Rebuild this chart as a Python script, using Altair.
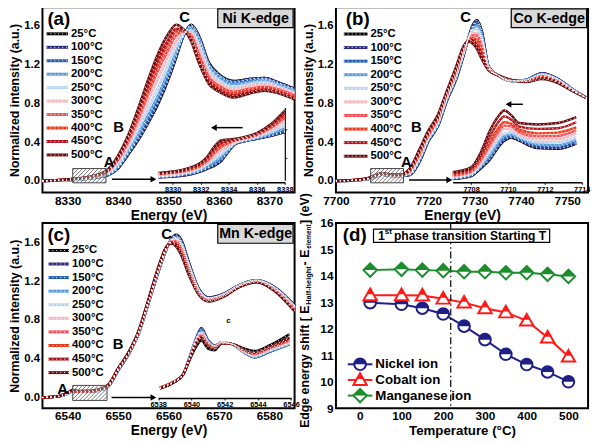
import altair as alt
import pandas as pd

# ---------------------------------------------------------------- data
TEMPS = ["25°C", "100°C", "150°C", "200°C", "250°C", "300°C", "350°C", "400°C", "450°C", "500°C"]
COLORS = ["#000000", "#2c2a7c", "#1f5bb0", "#5b9bd8", "#b8d5f2",
          "#f5b8bf", "#f24f57", "#e93a1c", "#b3121c", "#6b0c0e"]

# (a) Ni K-edge, main spectra (one row per temperature)
NI_E = [8325, 8331, 8335, 8338, 8340, 8342, 8344, 8346, 8348, 8350, 8351.5, 8353, 8354.5,
        8356, 8358, 8360, 8363, 8366, 8369, 8372, 8375]
NI_I = [
    [0.00, 0.01, 0.03, 0.06, 0.13, 0.27, 0.42, 0.60, 0.80, 1.05, 1.27, 1.50, 1.61, 1.50, 1.22, 1.10, 1.03, 1.05, 1.06, 1.01, 0.95],
    [0.00, 0.01, 0.03, 0.06, 0.13, 0.28, 0.43, 0.61, 0.82, 1.06, 1.28, 1.50, 1.60, 1.49, 1.21, 1.09, 1.02, 1.05, 1.06, 1.01, 0.95],
    [0.00, 0.01, 0.03, 0.06, 0.14, 0.29, 0.45, 0.64, 0.84, 1.09, 1.30, 1.50, 1.60, 1.48, 1.20, 1.09, 1.02, 1.04, 1.05, 1.00, 0.94],
    [0.00, 0.01, 0.03, 0.07, 0.15, 0.30, 0.48, 0.68, 0.89, 1.13, 1.33, 1.51, 1.58, 1.45, 1.18, 1.07, 1.00, 1.02, 1.04, 0.99, 0.93],
    [0.00, 0.01, 0.04, 0.08, 0.17, 0.34, 0.53, 0.75, 0.97, 1.21, 1.38, 1.52, 1.55, 1.41, 1.15, 1.04, 0.97, 1.00, 1.02, 0.97, 0.91],
    [0.00, 0.02, 0.04, 0.09, 0.20, 0.37, 0.59, 0.83, 1.06, 1.29, 1.44, 1.53, 1.53, 1.36, 1.11, 1.01, 0.95, 0.98, 1.00, 0.96, 0.90],
    [0.00, 0.02, 0.04, 0.10, 0.22, 0.40, 0.64, 0.90, 1.15, 1.36, 1.50, 1.54, 1.50, 1.31, 1.07, 0.98, 0.92, 0.95, 0.97, 0.94, 0.88],
    [0.00, 0.02, 0.05, 0.11, 0.23, 0.43, 0.68, 0.95, 1.21, 1.42, 1.54, 1.55, 1.48, 1.28, 1.05, 0.96, 0.90, 0.93, 0.96, 0.92, 0.86],
    [0.00, 0.02, 0.05, 0.11, 0.24, 0.45, 0.71, 1.00, 1.26, 1.46, 1.57, 1.56, 1.46, 1.25, 1.03, 0.94, 0.88, 0.92, 0.94, 0.91, 0.85],
    [0.00, 0.02, 0.05, 0.12, 0.26, 0.47, 0.75, 1.05, 1.32, 1.52, 1.61, 1.56, 1.44, 1.22, 1.00, 0.92, 0.86, 0.90, 0.93, 0.90, 0.84],
]
# (a) inset, pre-edge region (relative units)
NI_INSET_E = [8329, 8330, 8331, 8332, 8332.5, 8333, 8333.5, 8334, 8334.5, 8335, 8336, 8337, 8338]
NI_INSET_I = [
    [0.04, 0.05, 0.07, 0.12, 0.16, 0.20, 0.27, 0.40, 0.50, 0.53, 0.57, 0.61, 0.66],
    [0.04, 0.05, 0.07, 0.12, 0.17, 0.21, 0.28, 0.40, 0.50, 0.53, 0.57, 0.61, 0.67],
    [0.04, 0.06, 0.08, 0.13, 0.17, 0.22, 0.29, 0.41, 0.51, 0.53, 0.58, 0.62, 0.68],
    [0.05, 0.06, 0.09, 0.14, 0.19, 0.25, 0.32, 0.43, 0.51, 0.54, 0.58, 0.64, 0.71],
    [0.06, 0.07, 0.10, 0.16, 0.22, 0.29, 0.36, 0.45, 0.52, 0.55, 0.60, 0.66, 0.76],
    [0.07, 0.085, 0.115, 0.18, 0.245, 0.335, 0.41, 0.48, 0.535, 0.56, 0.61, 0.69, 0.81],
    [0.08, 0.10, 0.13, 0.20, 0.27, 0.38, 0.46, 0.51, 0.55, 0.57, 0.62, 0.72, 0.86],
    [0.09, 0.105, 0.14, 0.21, 0.29, 0.41, 0.49, 0.52, 0.555, 0.58, 0.63, 0.73, 0.89],
    [0.09, 0.11, 0.15, 0.23, 0.31, 0.44, 0.52, 0.54, 0.56, 0.58, 0.64, 0.75, 0.92],
    [0.10, 0.12, 0.16, 0.24, 0.33, 0.47, 0.55, 0.56, 0.57, 0.59, 0.65, 0.77, 0.96],
]

# (b) Co K-edge
CO_E = [7700, 7704, 7707, 7708.5, 7710, 7712, 7714, 7716, 7718, 7720, 7722, 7724, 7726, 7727.5,
        7728.5, 7729.5, 7730.5, 7731.5, 7733, 7735, 7738, 7741, 7744.5, 7748, 7751, 7754]
CO_I = [
    [0.00, 0.005, 0.02, 0.04, 0.065, 0.05, 0.05, 0.06, 0.19, 0.41, 0.56, 0.83, 1.05, 1.28, 1.45, 1.60, 1.66, 1.55, 1.18, 1.09, 1.03, 1.04, 1.11, 1.05, 0.95, 0.86],
    [0.00, 0.005, 0.02, 0.04, 0.066, 0.051, 0.051, 0.064, 0.20, 0.42, 0.57, 0.84, 1.06, 1.29, 1.45, 1.59, 1.65, 1.54, 1.18, 1.09, 1.03, 1.04, 1.11, 1.05, 0.95, 0.86],
    [0.00, 0.005, 0.02, 0.042, 0.067, 0.052, 0.052, 0.067, 0.20, 0.42, 0.57, 0.84, 1.06, 1.29, 1.45, 1.58, 1.63, 1.52, 1.18, 1.09, 1.03, 1.04, 1.10, 1.05, 0.95, 0.86],
    [0.00, 0.006, 0.022, 0.044, 0.068, 0.053, 0.053, 0.074, 0.22, 0.43, 0.58, 0.85, 1.08, 1.30, 1.45, 1.56, 1.60, 1.49, 1.17, 1.09, 1.03, 1.04, 1.10, 1.04, 0.95, 0.86],
    [0.00, 0.007, 0.023, 0.046, 0.07, 0.055, 0.055, 0.08, 0.23, 0.44, 0.60, 0.86, 1.09, 1.31, 1.45, 1.55, 1.57, 1.46, 1.17, 1.09, 1.03, 1.03, 1.09, 1.04, 0.94, 0.86],
    [0.00, 0.007, 0.025, 0.049, 0.072, 0.057, 0.057, 0.09, 0.25, 0.46, 0.61, 0.875, 1.11, 1.33, 1.45, 1.52, 1.525, 1.42, 1.16, 1.09, 1.035, 1.03, 1.08, 1.03, 0.94, 0.86],
    [0.00, 0.008, 0.026, 0.051, 0.073, 0.058, 0.058, 0.10, 0.26, 0.47, 0.63, 0.885, 1.12, 1.335, 1.445, 1.50, 1.50, 1.39, 1.16, 1.09, 1.035, 1.03, 1.08, 1.03, 0.94, 0.86],
    [0.00, 0.009, 0.027, 0.054, 0.076, 0.061, 0.061, 0.11, 0.28, 0.49, 0.64, 0.90, 1.14, 1.35, 1.44, 1.47, 1.45, 1.35, 1.15, 1.09, 1.037, 1.026, 1.07, 1.02, 0.936, 0.86],
    [0.00, 0.009, 0.029, 0.057, 0.078, 0.063, 0.063, 0.12, 0.30, 0.50, 0.66, 0.915, 1.16, 1.365, 1.44, 1.45, 1.40, 1.30, 1.15, 1.09, 1.038, 1.023, 1.06, 1.016, 0.933, 0.86],
    [0.00, 0.01, 0.03, 0.06, 0.08, 0.065, 0.065, 0.13, 0.32, 0.52, 0.68, 0.93, 1.18, 1.38, 1.44, 1.42, 1.36, 1.26, 1.14, 1.09, 1.04, 1.02, 1.05, 1.01, 0.93, 0.86],
]
CO_INSET_E = [7707, 7708, 7708.5, 7709, 7709.5, 7709.8, 7710.2, 7710.6, 7711.6, 7712.7, 7713.7]
CO_INSET_I = [
    [0.03, 0.07, 0.17, 0.29, 0.47, 0.55, 0.59, 0.55, 0.45, 0.44, 0.51],
    [0.033, 0.074, 0.18, 0.30, 0.48, 0.56, 0.60, 0.56, 0.46, 0.45, 0.52],
    [0.038, 0.08, 0.19, 0.32, 0.50, 0.58, 0.61, 0.57, 0.48, 0.47, 0.54],
    [0.044, 0.09, 0.20, 0.35, 0.53, 0.61, 0.635, 0.59, 0.50, 0.49, 0.56],
    [0.054, 0.10, 0.22, 0.39, 0.575, 0.65, 0.665, 0.61, 0.53, 0.53, 0.60],
    [0.066, 0.116, 0.25, 0.44, 0.63, 0.71, 0.70, 0.64, 0.57, 0.57, 0.65],
    [0.078, 0.13, 0.275, 0.485, 0.68, 0.755, 0.74, 0.67, 0.61, 0.615, 0.69],
    [0.09, 0.145, 0.30, 0.53, 0.73, 0.80, 0.775, 0.70, 0.65, 0.66, 0.73],
    [0.106, 0.166, 0.34, 0.60, 0.81, 0.88, 0.83, 0.74, 0.71, 0.72, 0.80],
    [0.125, 0.19, 0.38, 0.68, 0.89, 0.96, 0.89, 0.79, 0.77, 0.79, 0.87],
]

# (c) Mn K-edge
MN_E = [6535, 6538, 6540, 6541, 6542, 6544, 6546, 6548, 6550, 6552, 6554, 6556, 6558, 6559.5,
        6560.5, 6561.5, 6562.5, 6564, 6566, 6568, 6571, 6574, 6577.5, 6581, 6585]
MN_I = [
    [0.00, 0.01, 0.04, 0.07, 0.06, 0.06, 0.07, 0.11, 0.28, 0.44, 0.65, 0.97, 1.30, 1.52, 1.63, 1.68, 1.63, 1.40, 1.12, 1.03, 1.07, 1.16, 1.21, 1.14, 0.95],
    [0.00, 0.01, 0.04, 0.07, 0.06, 0.06, 0.07, 0.11, 0.28, 0.44, 0.65, 0.97, 1.30, 1.52, 1.63, 1.67, 1.62, 1.39, 1.12, 1.03, 1.07, 1.16, 1.21, 1.14, 0.95],
    [0.00, 0.01, 0.04, 0.07, 0.06, 0.06, 0.07, 0.11, 0.28, 0.44, 0.66, 0.98, 1.31, 1.53, 1.62, 1.66, 1.61, 1.38, 1.11, 1.02, 1.07, 1.16, 1.21, 1.13, 0.94],
    [0.00, 0.01, 0.04, 0.07, 0.06, 0.06, 0.07, 0.12, 0.29, 0.45, 0.66, 0.98, 1.31, 1.53, 1.62, 1.65, 1.59, 1.37, 1.11, 1.02, 1.06, 1.16, 1.21, 1.13, 0.94],
    [0.00, 0.01, 0.04, 0.07, 0.06, 0.06, 0.07, 0.12, 0.29, 0.45, 0.66, 0.98, 1.32, 1.53, 1.62, 1.64, 1.57, 1.36, 1.10, 1.02, 1.06, 1.15, 1.20, 1.13, 0.93],
    [0.00, 0.01, 0.05, 0.07, 0.06, 0.06, 0.08, 0.12, 0.29, 0.45, 0.66, 0.99, 1.32, 1.53, 1.61, 1.63, 1.56, 1.34, 1.09, 1.01, 1.06, 1.15, 1.20, 1.12, 0.92],
    [0.00, 0.01, 0.05, 0.07, 0.06, 0.06, 0.08, 0.12, 0.29, 0.45, 0.67, 0.99, 1.33, 1.54, 1.61, 1.61, 1.54, 1.33, 1.09, 1.01, 1.05, 1.15, 1.20, 1.12, 0.92],
    [0.00, 0.01, 0.05, 0.07, 0.06, 0.06, 0.08, 0.12, 0.29, 0.45, 0.67, 1.00, 1.33, 1.54, 1.60, 1.60, 1.53, 1.32, 1.08, 1.00, 1.05, 1.15, 1.20, 1.11, 0.91],
    [0.00, 0.01, 0.05, 0.07, 0.06, 0.06, 0.08, 0.13, 0.30, 0.46, 0.67, 1.00, 1.34, 1.54, 1.60, 1.58, 1.50, 1.30, 1.07, 1.00, 1.05, 1.14, 1.19, 1.11, 0.90],
    [0.00, 0.01, 0.05, 0.08, 0.07, 0.07, 0.08, 0.13, 0.30, 0.46, 0.68, 1.01, 1.35, 1.55, 1.59, 1.56, 1.47, 1.27, 1.06, 0.99, 1.04, 1.14, 1.19, 1.10, 0.89],
]
MN_INSET_E = [6538.1, 6538.9, 6539.5, 6539.9, 6540.3, 6540.6, 6541.0, 6541.4, 6541.8, 6542.4,
              6543.2, 6543.8, 6544.7, 6545.9]
MN_INSET_I = [
    [0.12, 0.19, 0.29, 0.48, 0.65, 0.72, 0.62, 0.60, 0.68, 0.68, 0.62, 0.59, 0.66, 0.80],
    [0.13, 0.20, 0.30, 0.52, 0.76, 0.88, 0.73, 0.66, 0.70, 0.68, 0.57, 0.51, 0.58, 0.68],
    [0.13, 0.20, 0.30, 0.52, 0.75, 0.86, 0.72, 0.65, 0.70, 0.68, 0.57, 0.51, 0.58, 0.67],
    [0.13, 0.20, 0.30, 0.51, 0.74, 0.84, 0.71, 0.65, 0.70, 0.68, 0.57, 0.52, 0.59, 0.68],
    [0.13, 0.20, 0.30, 0.51, 0.73, 0.82, 0.70, 0.65, 0.70, 0.68, 0.58, 0.53, 0.60, 0.69],
    [0.13, 0.20, 0.30, 0.50, 0.72, 0.80, 0.69, 0.64, 0.70, 0.68, 0.58, 0.54, 0.61, 0.70],
    [0.13, 0.20, 0.30, 0.50, 0.71, 0.79, 0.68, 0.64, 0.69, 0.68, 0.59, 0.55, 0.62, 0.72],
    [0.13, 0.20, 0.30, 0.50, 0.70, 0.78, 0.67, 0.63, 0.69, 0.68, 0.59, 0.56, 0.63, 0.73],
    [0.12, 0.19, 0.30, 0.49, 0.69, 0.76, 0.66, 0.62, 0.69, 0.68, 0.60, 0.57, 0.64, 0.75],
    [0.12, 0.19, 0.29, 0.49, 0.68, 0.75, 0.65, 0.62, 0.69, 0.68, 0.60, 0.57, 0.64, 0.76],
]

# (d) edge energy shift vs temperature
TEMP_C = [25, 100, 150, 200, 250, 300, 350, 400, 450, 500]
NI_SHIFT = [12.99, 12.93, 12.78, 12.56, 12.10, 11.59, 11.04, 10.65, 10.37, 10.00]
CO_SHIFT = [13.27, 13.27, 13.26, 13.14, 12.99, 12.78, 12.62, 12.31, 11.67, 10.95]
MN_SHIFT = [14.22, 14.25, 14.22, 14.20, 14.16, 14.16, 14.12, 14.12, 14.06, 13.98]
IONS = ["Nickel ion", "Cobalt ion", "Manganese ion"]
ION_COLORS = ["#1f1f86", "#ff1a1a", "#1c8c2c"]
TRANSITION_T = 218

# marker outlines and their upper (coloured) halves, unit-normalised symbol paths
ION_OUTLINES = ["circle", "M0,-1.15L1.15,0.85L-1.15,0.85Z", "M0,-1.15L1.15,0L0,1.15L-1.15,0Z"]
ION_HALVES = ["M-1,0A1,1,0,0,1,1,0Z", "M0,-1.15L0.575,-0.15L-0.575,-0.15Z", "M0,-1.15L1.15,0L-1.15,0Z"]

# ---------------------------------------------------------------- layout
W, H = 256, 188
FONT = "Liberation Sans"
ONE = pd.DataFrame({"k": [0]})

PANELS = {
    "a": dict(letter="(a)", letter_x=5, element="Ni K-edge", E=NI_E, I=NI_I, iE=NI_INSET_E, iI=NI_INSET_I,
              xdom=[8325, 8375], ydom=[-0.12, 1.79], xticks=[8330, 8340, 8350, 8360, 8370],
              idom=[8329, 8338], iticks=[8330, 8332, 8334, 8336, 8338],
              ix=[0.4605, 0.9613], iy=[0.9335, 0.541], iaxis=0.945, iright=True,
              labels=[("C", 8353.2, 1.69, 15), ("B", 8340.1, 0.56, 15), ("A", 8338.2, 0.19, 15)],
              box=[8331.0, 8337.6, -0.02, 0.127],
              arrows=[(8338.8, 8347.0, 0.017), (8364.7, 8359.0, 0.549)],
              leg_x=[4, 26], leg_y=[0.143, 0.797]),
    "b": dict(letter="(b)", letter_x=10, element="Co K-edge", E=CO_E, I=CO_I, iE=CO_INSET_E, iI=CO_INSET_I,
              xdom=[7700, 7754.5], ydom=[-0.12, 1.79], xticks=[7700, 7710, 7720, 7730, 7740, 7750],
              idom=[7707, 7714], iticks=[7708, 7710, 7712, 7714],
              ix=[0.463, 0.975], iy=[0.94, 0.541], iaxis=0.945, iright=False,
              labels=[("C", 7728.0, 1.69, 15), ("B", 7717.4, 0.55, 15), ("A", 7715.2, 0.19, 15)],
              box=[7707.5, 7714.6, -0.02, 0.127],
              arrows=[(7715.8, 7724.5, 0.01), (7740.4, 7737.3, 0.79)],
              leg_x=[8, 32], leg_y=[0.144, 0.804]),
    "c": dict(letter="(c)", letter_x=5, element="Mn K-edge", E=MN_E, I=MN_I, iE=MN_INSET_E, iI=MN_INSET_I,
              xdom=[6535, 6585], ydom=[-0.11, 1.80], xticks=[6540, 6550, 6560, 6570, 6580],
              idom=[6538, 6546], iticks=[6538, 6540, 6542, 6544, 6546],
              ix=[0.459, 0.986], iy=[0.945, 0.515], iaxis=0.945, iright=False,
              labels=[("C", 6559.6, 1.69, 15), ("B", 6550.0, 0.55, 15), ("A", 6539.0, 0.09, 15),
                      ("c", 6571.9, 0.79, 8)],
              box=[6541.0, 6547.8, -0.03, 0.125],
              arrows=[(6548.7, 6557.0, 0.0)],
              leg_x=[6, 27], leg_y=[0.148, 0.808]),
}


def hatch_lines(box, xdom, ydom, step=4.0):
    x0, x1, y0, y1 = box
    kx = W / (xdom[1] - xdom[0])
    ky = H / (ydom[1] - ydom[0])
    wpx, hpx = (x1 - x0) * kx, (y1 - y0) * ky
    rows, c = [], -hpx + step / 2
    while c < wpx:
        xs, xe = max(c, 0.0), min(c + hpx, wpx)
        if xe > xs:
            rows.append({"E": x0 + xs / kx, "I": y0 + (xs - c) / ky,
                         "E2": x0 + xe / kx, "I2": y0 + (xe - c) / ky})
        c += step
    return pd.DataFrame(rows)


def long_df(E, I):
    return pd.DataFrame([{"E": e, "I": v, "T": t}
                         for t, vals in zip(TEMPS, I) for e, v in zip(E, vals)])


def spectra_panel(cfg):
    xs = alt.Scale(domain=cfg["xdom"], nice=False, zero=False)
    ys = alt.Scale(domain=cfg["ydom"], nice=False, zero=False)
    color = alt.Color("T:N", scale=alt.Scale(domain=TEMPS, range=COLORS), legend=None)
    xaxis = alt.Axis(values=cfg["xticks"], format="d", title="Energy (eV)", titleFontSize=14,
                     labelFontSize=12, labelFlush=False, labelOverlap=False)
    yaxis = alt.Axis(values=[0, 0.4, 0.8, 1.2, 1.6], format=".1f", title="Normalized intensity (a.u.)",
                     titleFontSize=12.5, labelFontSize=11.5, labelFlush=False, labelOverlap=False)
    xa = alt.X("E:Q", scale=xs, axis=xaxis)
    ya = alt.Y("I:Q", scale=ys, axis=yaxis)

    df = long_df(cfg["E"], cfg["I"])
    lines = alt.Chart(df).mark_line(strokeWidth=2.6, interpolate="monotone").encode(x=xa, y=ya, color=color)
    dots = alt.Chart(df).mark_line(strokeWidth=1.1, interpolate="monotone", color="white",
                                   strokeDash=[1, 3], opacity=0.9).encode(x=xa, y=ya, detail="T:N")

    bx0, bx1, by0, by1 = cfg["box"]
    boxdf = pd.DataFrame({"E": [bx0], "E2": [bx1], "I": [by0], "I2": [by1]})
    box = alt.Chart(boxdf).mark_rect(fill="white", fillOpacity=0.25, stroke="#444",
                                     strokeWidth=1).encode(x=xa, x2="E2", y=ya, y2="I2")
    hatch = alt.Chart(hatch_lines(cfg["box"], cfg["xdom"], cfg["ydom"])).mark_rule(
        color="#555", strokeWidth=0.8).encode(x=xa, y=ya, x2="E2", y2="I2")

    arr = pd.DataFrame([{"E": a, "E2": b, "I": yv,
                         "shape": "triangle-right" if b > a else "triangle-left"}
                        for a, b, yv in cfg["arrows"]])
    arrow_line = alt.Chart(arr).mark_rule(color="black", strokeWidth=1.5).encode(x=xa, x2="E2", y=ya)
    arrow_head = alt.Chart(arr).mark_point(filled=True, color="black", size=45, opacity=1).encode(
        x=alt.X("E2:Q", scale=xs, axis=xaxis), y=ya,
        shape=alt.Shape("shape:N", scale=None, legend=None))

    labdf = pd.DataFrame([{"E": e, "I": v, "txt": t, "fs": fs} for t, e, v, fs in cfg["labels"]])
    labels = alt.Chart(labdf).mark_text(font=FONT, fontWeight="bold", color="black").encode(
        x=xa, y=ya, text="txt:N", size=alt.Size("fs:Q", scale=None, legend=None))

    letter = alt.Chart(ONE).mark_text(text=cfg["letter"], font=FONT, fontWeight="bold", fontSize=19,
                                      align="left", baseline="middle", color="black").encode(
        x=alt.value(cfg["letter_x"]), y=alt.value(12))
    ebox = alt.Chart(ONE).mark_rect(fill="#d9d9d9", stroke="black", strokeWidth=1.2).encode(
        x=alt.value(W - 78), x2=alt.value(W - 1.5), y=alt.value(1.5), y2=alt.value(20.5))
    etext = alt.Chart(ONE).mark_text(text=cfg["element"], font=FONT, fontWeight="bold", fontSize=14.5,
                                     baseline="middle", color="black").encode(
        x=alt.value(W - 39.5), y=alt.value(11.5))

    main = alt.layer(lines, dots, box, hatch, arrow_line, arrow_head, labels, letter, ebox, etext)

    # inset (pre-edge zoom), drawn through its own scales placed inside the plot area
    ixs = alt.Scale(domain=cfg["idom"], range=[cfg["ix"][0] * W, cfg["ix"][1] * W], nice=False, zero=False)
    iys = alt.Scale(domain=[0, 1], range=[cfg["iy"][0] * H, cfg["iy"][1] * H], nice=False, zero=False)
    ix_axis = alt.Axis(orient="bottom", offset=-(H - cfg["iaxis"] * H), values=cfg["iticks"], format="d",
                       title=None, domain=True, domainColor="black", domainWidth=1.5, ticks=True,
                       tickSize=2, tickColor="black", labelFontSize=7.5, labelFontWeight="bold",
                       labelPadding=1, labelFlush=False, labelOverlap=False)
    if cfg["iright"]:
        iy_axis = alt.Axis(orient="right", offset=-(W - cfg["ix"][1] * W), values=[0.3, 0.7], labels=False,
                           title=None, domain=True, domainColor="black", domainWidth=1.2, ticks=True,
                           tickSize=2, tickColor="black")
    else:
        iy_axis = None
    idf = long_df(cfg["iE"], cfg["iI"])
    ixe = alt.X("E:Q", scale=ixs, axis=ix_axis)
    iye = alt.Y("I:Q", scale=iys, axis=iy_axis)
    ilines = alt.Chart(idf).mark_line(strokeWidth=2.4, interpolate="monotone").encode(x=ixe, y=iye, color=color)
    idots = alt.Chart(idf).mark_line(strokeWidth=1, interpolate="monotone", color="white",
                                     strokeDash=[1, 3], opacity=0.9).encode(x=ixe, y=iye, detail="T:N")
    inset = alt.layer(ilines, idots)

    # legend built from the temperature list
    ldf = pd.DataFrame({"T": TEMPS})
    ly = alt.Y("T:N", scale=alt.Scale(type="point", domain=TEMPS, padding=0,
                                      range=[cfg["leg_y"][0] * H, cfg["leg_y"][1] * H]), axis=None)
    lx0, lx1 = cfg["leg_x"]
    l1 = alt.Chart(ldf).mark_rule(strokeWidth=3).encode(x=alt.value(lx0), x2=alt.value(lx1), y=ly, color=color)
    l2 = alt.Chart(ldf).mark_rule(strokeWidth=1, color="white", strokeDash=[1, 3]).encode(
        x=alt.value(lx0), x2=alt.value(lx1), y=ly)
    l3 = alt.Chart(ldf).mark_text(align="left", baseline="middle", font=FONT, fontWeight="bold",
                                  fontSize=11.5, color="black").encode(x=alt.value(lx1 + 3), y=ly, text="T:N")
    legend = alt.layer(l1, l2, l3)

    return alt.layer(main, inset, legend).resolve_scale(x="independent", y="independent").properties(
        width=W, height=H)


def panel_d():
    rows = [{"Tc": t, "S": v, "ion": ion}
            for ion, vals in zip(IONS, [NI_SHIFT, CO_SHIFT, MN_SHIFT]) for t, v in zip(TEMP_C, vals)]
    df = pd.DataFrame(rows)
    xs = alt.Scale(domain=[-57, 547], nice=False, zero=False)
    ys = alt.Scale(domain=[9, 16], nice=False, zero=False)
    color = alt.Color("ion:N", scale=alt.Scale(domain=IONS, range=ION_COLORS), legend=None)
    xaxis = alt.Axis(values=[0, 100, 200, 300, 400, 500], title="Temperature (°C)", titleFontSize=13.5,
                     labelFontSize=12, labelFlush=False, labelOverlap=False)
    yaxis = alt.Axis(values=[9, 10, 11, 12, 13, 14, 15, 16], title=None, labelFontSize=12,
                     labelFlush=False, labelOverlap=False)
    xa = alt.X("Tc:Q", scale=xs, axis=xaxis)
    ya = alt.Y("S:Q", scale=ys, axis=yaxis)

    lines = alt.Chart(df).mark_line(strokeWidth=2).encode(x=xa, y=ya, color=color)
    vline = alt.Chart(pd.DataFrame({"Tc": [TRANSITION_T]})).mark_rule(
        color="black", strokeWidth=1.2, strokeDash=[7, 3, 1.5, 3]).encode(x=xa)
    marks = []
    for ion, col, outline, half in zip(IONS, ION_COLORS, ION_OUTLINES, ION_HALVES):
        sub = alt.Chart(df).transform_filter(alt.datum.ion == ion)
        marks.append(sub.mark_point(shape=outline, filled=False, fill="white", stroke=col, strokeWidth=2,
                                    size=140, opacity=1).encode(x=xa, y=ya))
        marks.append(sub.mark_point(shape=half, filled=True, color=col, size=140, opacity=1).encode(x=xa, y=ya))

    tbox = alt.Chart(pd.DataFrame({"Tc": [33], "T2": [455], "S": [15.27], "S2": [15.77]})).mark_rect(
        fill="white", stroke="black", strokeWidth=1.2).encode(x=xa, x2="T2", y=ya, y2="S2")
    tparts = [(44, "1", 12.5, 0), (60, "st", 8, -4), (82, "phase transition Starting T", 12.2, 0)]
    ttexts = []
    for tx, txt, fs, dy in tparts:
        ttexts.append(alt.Chart(pd.DataFrame({"Tc": [tx], "S": [15.52], "txt": [txt]})).mark_text(
            font=FONT, fontWeight="bold", fontSize=fs, dy=dy, align="left",
            baseline="middle", color="black").encode(x=xa, y=ya, text="txt:N"))

    letter = alt.Chart(ONE).mark_text(text="(d)", font=FONT, fontWeight="bold", fontSize=19,
                                      align="left", baseline="middle", color="black").encode(
        x=alt.value(7), y=alt.value(12))

    # rotated y-axis title with subscripts
    title_parts = [("Edge energy shift [ E", 12.5, 0, 208), ("Half-height", 7.5, 4, 83),
                   ("- E", 12.5, 0, 43), ("element", 6.5, 4, 26), ("] (eV)", 12.5, 0, 1)]
    tlayers = []
    for txt, fs, dxo, ypos in title_parts:
        tlayers.append(alt.Chart(ONE).mark_text(text=txt, font=FONT, fontWeight="bold", fontSize=fs,
                                                angle=270, align="left", baseline="middle",
                                                color="black").encode(
            x=alt.value(-31 + dxo), y=alt.value(ypos)))

    main = alt.layer(lines, vline, *marks, tbox, *ttexts, letter, *tlayers)

    ldf = pd.DataFrame({"ion": IONS})
    ly = alt.Y("ion:N", scale=alt.Scale(type="point", domain=IONS, padding=0,
                                        range=[0.763 * H, 0.932 * H]), axis=None)
    leg = [alt.Chart(ldf).mark_rule(strokeWidth=2).encode(x=alt.value(12), x2=alt.value(37), y=ly, color=color)]
    for ion, col, outline, half in zip(IONS, ION_COLORS, ION_OUTLINES, ION_HALVES):
        sub = alt.Chart(ldf).transform_filter(alt.datum.ion == ion)
        leg.append(sub.mark_point(shape=outline, filled=False, fill="white", stroke=col, strokeWidth=2,
                                  size=140, opacity=1).encode(x=alt.value(24.5), y=ly))
        leg.append(sub.mark_point(shape=half, filled=True, color=col, size=140, opacity=1).encode(
            x=alt.value(24.5), y=ly))
    leg.append(alt.Chart(ldf).mark_text(align="left", baseline="middle", font=FONT, fontWeight="bold",
                                        fontSize=13.5, color="black").encode(x=alt.value(40), y=ly, text="ion:N"))
    legend = alt.layer(*leg)

    return alt.layer(main, legend).resolve_scale(x="independent", y="independent").properties(
        width=W, height=H)


pa = spectra_panel(PANELS["a"])
pb = spectra_panel(PANELS["b"])
pc = spectra_panel(PANELS["c"])
pd_ = panel_d()

chart = alt.concat(pa, pb, pc, pd_, columns=2, spacing={"row": 31, "column": 42}, bounds="flush",
                   padding={"left": 0, "top": -5, "right": 0, "bottom": 0}).resolve_scale(
    color="independent", shape="independent"
).configure_view(
    stroke="black", strokeWidth=2
).configure_axis(
    labelFont=FONT, titleFont=FONT, labelFontWeight="bold", titleFontWeight="bold",
    labelColor="black", titleColor="black", domain=False, ticks=False, grid=False,
    labelPadding=3, titlePadding=2
).configure_text(font=FONT)

chart.save("out.html", embed_options={"renderer": "svg", "actions": False})
